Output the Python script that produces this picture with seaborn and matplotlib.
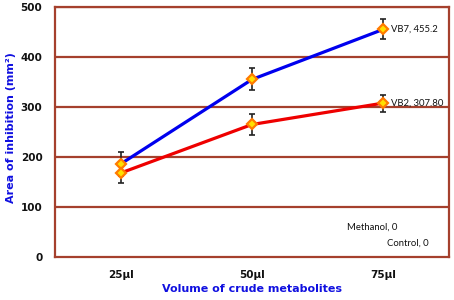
import matplotlib
matplotlib.use("Agg")
import matplotlib.pyplot as plt
import seaborn as sns
import pandas as pd

volumes = ["25µl", "50µl", "75µl"]
vb7 = [186, 355, 455.2]
vb2 = [168, 265, 307.8]
vb7_err = [24, 22, 20]
vb2_err = [20, 20, 17]
series_names = ["VB7", "VB2"]
series_colors = ["#0000EE", "#EE0000"]

sns.set_theme(style="white")
plt.rcParams['font.family'] = ['DejaVu Sans']

df = pd.DataFrame({
    "volume": volumes * 2,
    "area": vb7 + vb2,
    "series": [series_names[0]] * 3 + [series_names[1]] * 3,
})

fig = plt.figure(figsize=(4.54, 3.0), dpi=100)
ax = fig.add_axes([0.121, 0.143, 0.868, 0.834])

brown = "#A5402D"
for y in [100, 200, 300, 400, 500]:
    ax.axhline(y, color=brown, lw=1.6, zorder=0)

sns.lineplot(data=df, x="volume", y="area", hue="series", palette=series_colors,
             lw=2.3, ax=ax, legend=False, zorder=2, sort=False)

xs = list(range(len(volumes)))
for vals, errs in [(vb7, vb7_err), (vb2, vb2_err)]:
    ax.errorbar(xs, vals, yerr=errs, fmt="none", ecolor="#222222",
                elinewidth=1.2, capsize=2.5, capthick=1.2, zorder=3)
    ax.plot(xs, vals, linestyle="none", marker="D", markersize=5.5,
            markerfacecolor="#FFE000", markeredgecolor="#FF7A00",
            markeredgewidth=1.6, zorder=4)

lab_font = dict(fontsize=6.8, family=["Lato", "DejaVu Sans"], color="#111111")
ax.text(2.055, vb7[2], f"VB7, {vb7[2]}", va="center", ha="left", **lab_font)
ax.text(2.055, vb2[2], "VB2, 307.80", va="center", ha="left", **lab_font)
ax.text(1.72, 60, "Methanol, 0", va="center", ha="left", **lab_font)
ax.text(2.03, 28, "Control, 0", va="center", ha="left", **lab_font)

ax.set_xlim(-0.5, 2.5)
ax.set_ylim(0, 500)
ax.set_yticks([0, 100, 200, 300, 400, 500])
ax.tick_params(axis="both", length=0, labelsize=7.5)
ax.tick_params(axis="y", pad=9)
ax.tick_params(axis="x", pad=9)
for lab in ax.get_xticklabels() + ax.get_yticklabels():
    lab.set_fontweight("bold")
    lab.set_color("#111111")

ax.set_xlabel("Volume of crude metabolites", color="#1010E0", fontsize=8,
              fontweight="bold")
ax.set_ylabel("Area of inhibition (mm²)", color="#1010E0", fontsize=8,
              fontweight="bold")
ax.xaxis.set_label_coords((252 - 55) / 394, -(284 - 257) / 250)
ax.yaxis.set_label_coords(-(55 - 16) / 394, (257 - 128) / 250)

for s in ax.spines.values():
    s.set_color(brown)
    s.set_linewidth(1.6)

fig.savefig("out.png", dpi=100)
